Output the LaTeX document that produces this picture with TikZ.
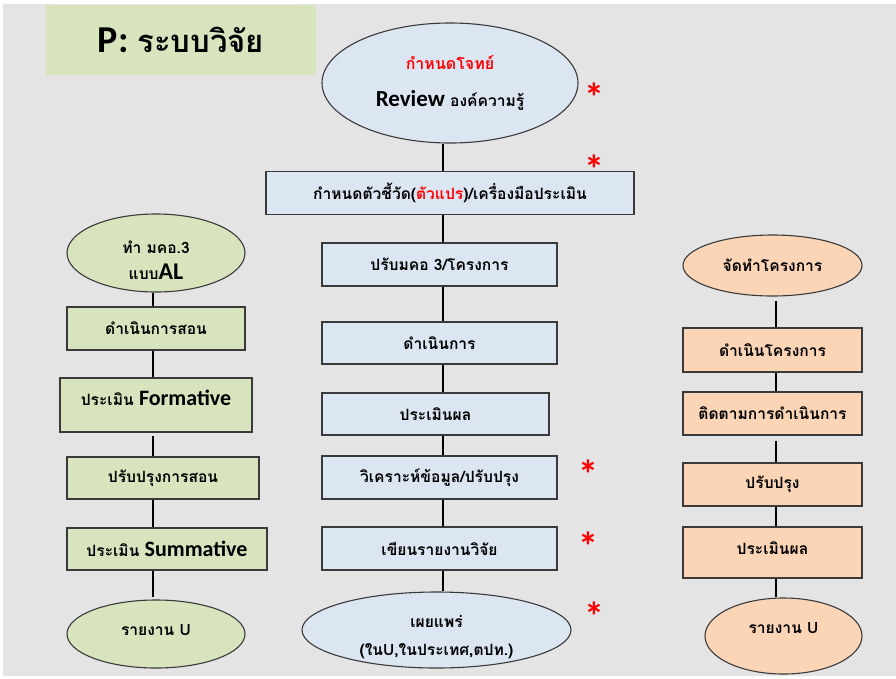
\documentclass[tikz,border=0pt]{standalone}
\usepackage{fontspec}
\setmainfont{Carlito}
\newfontfamily\thai[Script=Thai]{Loma}
\newfontfamily\lat{Carlito}
\usetikzlibrary{shapes.geometric}
\definecolor{bgc}{HTML}{E4E4E4}
\definecolor{blu}{HTML}{DCE6F2}
\definecolor{grn}{HTML}{D7E4BD}
\definecolor{pch}{HTML}{FBD5B5}
\definecolor{edge}{HTML}{3A3A3A}
\definecolor{rd}{HTML}{FF0000}
\newcommand{\thb}{\thai\bfseries\fontsize{15.6}{18}\selectfont}
\newcommand{\latb}[1]{{\lat\bfseries\fontsize{22}{24}\selectfont #1}}
\begin{document}
\begin{tikzpicture}[x=1pt,y=-1pt,
  stepbox/.style={draw=edge, line width=1.1pt, inner sep=0pt, font=\thb, align=center},
  ovl/.style={ellipse, draw=edge, line width=1.1pt, inner sep=0pt, font=\thb, align=center},
  conn/.style={draw=black, line width=2.2pt},
  ast/.style={text=rd, font=\lat\bfseries\fontsize{40}{40}\selectfont, inner sep=0pt},
  lbl/.style={font=\thb, align=center, inner sep=0pt}
]
\useasboundingbox (0,0) rectangle (896,678);
\fill[white] (0,0) rectangle (896,678);
\fill[bgc] (3,4) rectangle (896,676);

% title
\node[fill=grn, minimum width=270pt, minimum height=70pt, inner sep=0pt] (title) at (181,40)
  {{\lat\bfseries\fontsize{38}{40}\selectfont P:}\hspace{9pt}{\thai\bfseries\fontsize{31}{33}\selectfont ระบบวิจัย}};

% spines
\coordinate (cs) at (443,0);
\coordinate (ls) at (153,0);
\coordinate (rs) at (776,0);

% centre column
\node[ovl, fill=blu, minimum width=256pt, minimum height=120pt] (e1) at (450,83)
  {{\color{rd}\fontsize{16}{18}\selectfont กำหนดโจทย์}\\[19pt]{\lat\bfseries\fontsize{23}{24}\selectfont Review} องค์ความรู้};
\node[stepbox, fill=blu, minimum width=368pt, minimum height=43pt] (b1) at (450,193)
  {กำหนดตัวชี้วัด({\color{rd}ตัวแปร})/เครื่องมือประเมิน};
\node[stepbox, fill=blu, minimum width=235pt, minimum height=43pt] (b2) at (439.5,264.5) {ปรับมคอ 3/โครงการ};
\node[stepbox, fill=blu, minimum width=235pt, minimum height=42pt] (b3) at (439.5,343) {ดำเนินการ};
\node[stepbox, fill=blu, minimum width=227pt, minimum height=42pt] (b4) at (435.5,414) {ประเมินผล};
\node[stepbox, fill=blu, minimum width=235pt, minimum height=43pt] (b5) at (439.5,477.5) {วิเคราะห์ข้อมูล/ปรับปรุง};
\node[stepbox, fill=blu, minimum width=235pt, minimum height=43pt] (b6) at (439.5,548.5) {เขียนรายงานวิจัย};
\node[ovl, fill=blu, minimum width=269pt, minimum height=76pt,
  label={[lbl, yshift=-7pt]center:เผยแพร่\\[10pt](ในU,ในประเทศ,ตปท.)}] (e2) at (436.5,630) {};

\draw[conn] (e1.south -| cs) -- (b1.north -| cs);
\draw[conn] (b1.south -| cs) -- (b2.north -| cs);
\draw[conn] (b2.south -| cs) -- (b3.north -| cs);
\draw[conn] (b3.south -| cs) -- (b4.north -| cs);
\draw[conn] (b4.south -| cs) -- (b5.north -| cs);
\draw[conn] (b5.south -| cs) -- (b6.north -| cs);
\draw[conn] (b6.south -| cs) -- (e2.north -| cs);

% stars
\node[ast] (s1) at (594,97) {*};
\node[ast] (s2) at (594,169) {*};
\node[ast] (s3) at (588,474) {*};
\node[ast] (s4) at (588,546) {*};
\node[ast] (s5) at (594,616) {*};

% left column
\node[ovl, fill=grn, minimum width=178pt, minimum height=78pt,
  label={[lbl, yshift=-7pt]center:ทำ มคอ.3\\[8pt]แบบ{\lat\bfseries\fontsize{24}{24}\selectfont AL}}] (le1) at (156,253) {};
\node[stepbox, fill=grn, minimum width=178pt, minimum height=43pt] (l1) at (156,328.5) {ดำเนินการสอน};
\node[stepbox, fill=grn, minimum width=192pt, minimum height=54pt,
  label={[lbl, yshift=7pt]center:ประเมิน \latb{Formative}}] (l2) at (156,405) {};
\node[stepbox, fill=grn, minimum width=192pt, minimum height=42pt] (l3) at (163,478) {ปรับปรุงการสอน};
\node[stepbox, fill=grn, minimum width=200pt, minimum height=42pt] (l4) at (167,549) {ประเมิน \latb{Summative}};
\node[ovl, fill=grn, minimum width=178pt, minimum height=68pt,
  label={[lbl, yshift=4pt]center:รายงาน U}] (le2) at (156,634) {};

\draw[conn] (le1.south -| ls) -- (l1.north -| ls);
\draw[conn] (l1.south -| ls) -- (l2.north -| ls);
\draw[conn, shorten <=3pt] (l2.south -| ls) -- (l3.north -| ls);
\draw[conn] (l3.south -| ls) -- (l4.north -| ls);
\draw[conn, shorten >=2pt] (l4.south -| ls) -- (le2.north -| ls);

% right column
\node[ovl, fill=pch, minimum width=179pt, minimum height=61pt] (re1) at (772.5,265.5) {จัดทำโครงการ};
\node[stepbox, fill=pch, minimum width=179pt, minimum height=44pt] (r1) at (772.5,350) {ดำเนินโครงการ};
\node[stepbox, fill=pch, minimum width=179pt, minimum height=43pt] (r2) at (772.5,413.5) {ติดตามการดำเนินการ};
\node[stepbox, fill=pch, minimum width=179pt, minimum height=43pt] (r3) at (772.5,484.5) {ปรับปรุง};
\node[stepbox, fill=pch, minimum width=179pt, minimum height=51pt,
  label={[lbl, yshift=4pt]center:ประเมินผล}] (r4) at (772.5,552.5) {};
\node[ovl, fill=pch, minimum width=157pt, minimum height=76pt,
  label={[lbl, yshift=8pt]center:รายงาน U}] (re2) at (783.5,636) {};

\draw[conn, shorten <=4pt] (re1.south -| rs) -- (r1.north -| rs);
\draw[conn] (r1.south -| rs) -- (r2.north -| rs);
\draw[conn, shorten <=5pt] (r2.south -| rs) -- (r3.north -| rs);
\draw[conn] (r3.south -| rs) -- (r4.north -| rs);
\draw[conn] (r4.south -| rs) -- (re2.north -| rs);
\end{tikzpicture}
\end{document}
